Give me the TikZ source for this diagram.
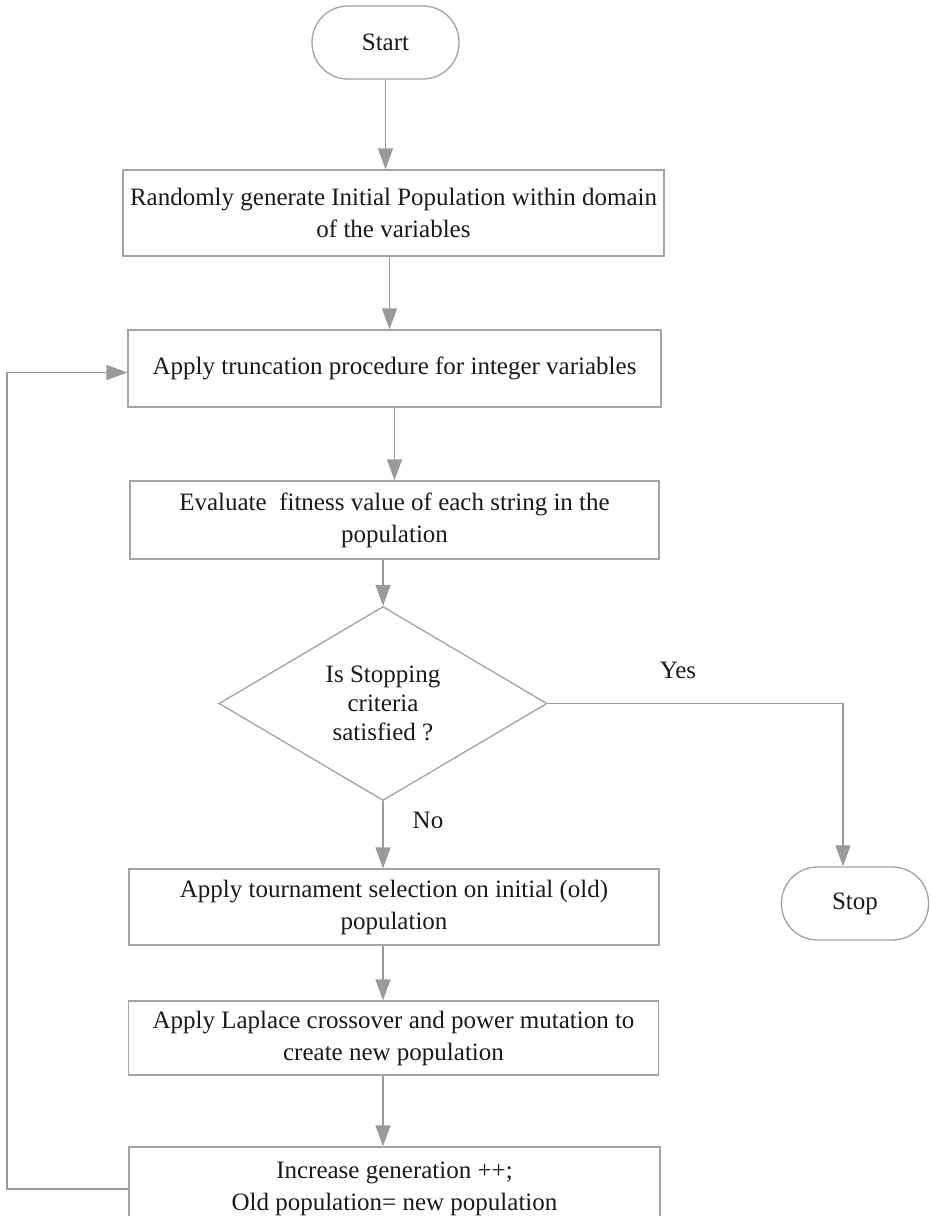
\documentclass[tikz,border=0pt]{standalone}
\usepackage{fontspec}
\setmainfont{Liberation Serif}
\usetikzlibrary{arrows.meta,shapes.geometric,calc}
\definecolor{edgegray}{HTML}{A3A3A3}
\definecolor{arrowgray}{HTML}{9A9A9A}
\definecolor{txt}{HTML}{1A1A1A}
\begin{document}
\begin{tikzpicture}[x=1pt,y=-1pt,
  every node/.style={text=txt,font=\fontsize{25}{32}\selectfont},
  box/.style={draw=edgegray,line width=1.3pt,rectangle,align=center,inner sep=0pt},
  term/.style={draw=edgegray,line width=1.3pt,rectangle,rounded corners=36pt,minimum width=147pt,minimum height=73pt,inner sep=0pt},
  decision/.style={draw=edgegray,line width=1.3pt,diamond,aspect=1.69,minimum width=328pt,minimum height=194pt,inner sep=0pt,align=center,font=\fontsize{25}{29}\selectfont},
  conn/.style={draw=arrowgray,line width=1.4pt,-{Triangle[length=21pt,width=15pt]}},
  lbl/.style={}
]
\clip (0,0) rectangle (931,1216);
\useasboundingbox (0,0) rectangle (931,1216);
\fill[white] (0,0) rectangle (931,1216);

\node[term] (start) at (385.5,42.5) {Start};
\node[box,minimum width=541pt,minimum height=86pt] (b1) at (393.5,213) {Randomly generate Initial Population within domain\\of the variables};
\node[box,minimum width=533pt,minimum height=77pt] (b2) at (394.5,368.5) {Apply truncation procedure for integer variables};
\node[box,minimum width=529pt,minimum height=78pt] (b3) at (394.5,520) {Evaluate\ \ fitness value of each string in the\\population};
\node[decision] (d) at (383,703.5) {Is Stopping\\criteria\\satisfied ?};
\node[term] (stop) at (855,903.5) {Stop};
\node[box,minimum width=530pt,minimum height=76pt] (b4) at (394,907) {Apply tournament selection on initial (old)\\population};
\node[box,minimum width=530pt,minimum height=74pt] (b5) at (393.5,1038) {Apply Laplace crossover and power mutation to\\create new population};
\node[box,minimum width=531pt,minimum height=84pt] (b6) at (394.5,1189) {Increase generation ++;\\Old population= new population};

\node[lbl] (yes) at (678,670) {Yes};
\node[lbl] (no) at (428,820) {No};

\coordinate (lx) at (7,0);

\draw[conn] (start.south) -- (start.south |- b1.north);
\draw[conn] ($(b1.south)+(-4,0)$) -- ($(b1.south |- b2.north)+(-4,0)$);
\draw[conn] (b2.south) -- (b2.south |- b3.north);
\draw[conn] (d.north |- b3.south) -- (d.north);
\draw[conn] (d.south) -- (d.south |- b4.north);
\draw[conn] (d.south |- b4.south) -- (d.south |- b5.north);
\draw[conn] (d.south |- b5.south) -- (d.south |- b6.north);
\draw[conn] (d.east) -| ($(stop.north)+(-12,0)$);
\draw[conn] (b6.west) -- (b6.west -| lx) |- ($(b2.west)+(0,4)$);
\end{tikzpicture}
\end{document}
